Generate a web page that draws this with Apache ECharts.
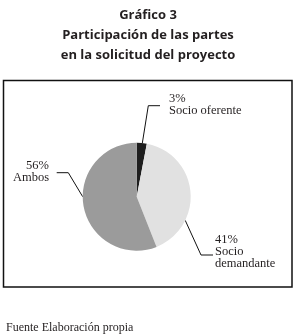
<!DOCTYPE html>
<html>
<head>
<meta charset="utf-8">
<script src="https://cdn.jsdelivr.net/npm/echarts@6/dist/echarts.min.js"></script>
<style>html,body{margin:0;padding:0;background:#fff;}#c{width:296px;height:336px;}</style>
</head>
<body>
<div id="c"></div>
<script>
const titleLines = ['Gráfico 3', 'Participación de las partes', 'en la solicitud del proyecto'];
const sourceText = 'Fuente Elaboración propia';
const categories = ['Socio oferente', 'Socio demandante', 'Ambos'];
const labelNames = ['Socio oferente', 'Socio\ndemandante', 'Ambos'];
const values = [3, 41, 56];
const colors = ['#1e1e1e', '#e1e1e1', '#9b9b9b'];

const chart = echarts.init(document.getElementById('c'), null, {renderer: 'canvas'});

const cx = 136.7, cy = 196.7, R = 54;
function edge(angDeg) { // clockwise from 12 o'clock
  const a = angDeg * Math.PI / 180;
  return [cx + R * Math.sin(a), cy - R * Math.cos(a)];
}
const labelPlacement = [
  {x: 169, y: 93, align: 'left', pts: (s) => [s, [148.3, 105.7], [160, 105.7]], ang: 6},
  {x: 215, y: 234, align: 'left', pts: (s) => [s, [201, 255], [213, 255]], ang: 116},
  {x: 49, y: 160, align: 'right', pts: (s) => [s, [68.3, 172.7], [56.7, 172.7]], ang: 270}
];

chart.setOption({
  animation: false,
  title: [{
    text: titleLines.join('\n'),
    left: 'center',
    top: 0,
    textStyle: {fontFamily: 'Open Sans', fontWeight: 'bold', fontSize: 13, lineHeight: 20, color: '#231f20'}
  }, {
    text: sourceText,
    left: 1,
    top: 317,
    textStyle: {fontFamily: 'Liberation Serif', fontWeight: 'normal', fontSize: 12, color: '#231f20'}
  }],
  graphic: [{
    type: 'rect',
    shape: {x: 3.5, y: 80.5, width: 288.5, height: 206.5},
    style: {fill: 'none', stroke: '#111', lineWidth: 1.5},
    silent: true
  }],
  series: [{
    type: 'pie',
    center: [cx, cy],
    radius: [0, R],
    startAngle: 90,
    clockwise: true,
    avoidLabelOverlap: false,
    itemStyle: {borderWidth: 0},
    label: {
      show: true,
      position: 'outside',
      formatter: (p) => p.value + '%\n' + labelNames[p.dataIndex],
      fontFamily: 'Liberation Serif',
      fontSize: 12.5,
      lineHeight: 12,
      color: '#231f20'
    },
    labelLine: {show: true, lineStyle: {color: '#111', width: 1}},
    labelLayout: (params) => {
      const L = labelPlacement[params.dataIndex];
      return {
        x: L.x, y: L.y, align: L.align, verticalAlign: 'top',
        labelLinePoints: L.pts(edge(L.ang))
      };
    },
    emphasis: {disabled: true},
    data: categories.map((c, i) => ({name: c, value: values[i], itemStyle: {color: colors[i]}}))
  }]
});
</script>
</body>
</html>
